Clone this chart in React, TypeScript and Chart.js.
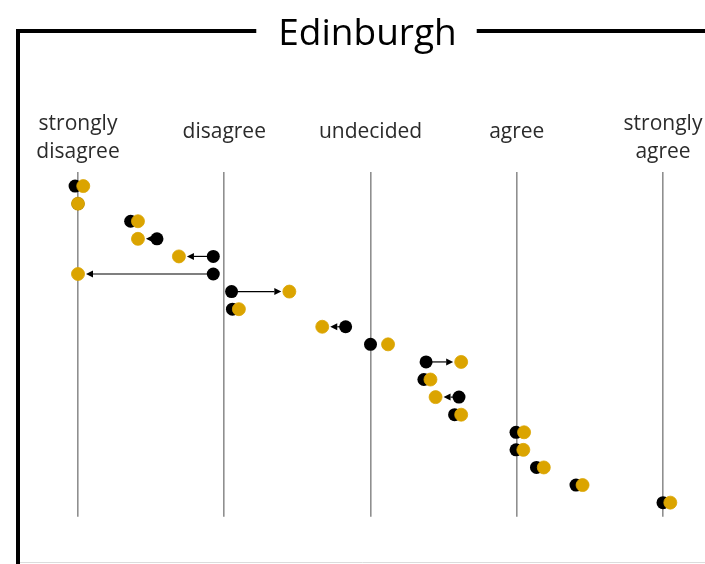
import { useEffect, useRef } from "react";
import { Chart, registerables } from "chart.js";

Chart.register(...registerables);

const TITLE = "Edinburgh";
const categoryLabels: string[][] = [
  ["strongly", "disagree"],
  ["disagree"],
  ["undecided"],
  ["agree"],
  ["strongly", "agree"],
];
const categoryValues = [1, 2, 3, 4, 5];

const respondents = [1, 2, 3, 4, 5, 6, 7, 8, 9, 10, 11, 12, 13, 14, 15, 16, 17, 18, 19];
const beforeScores = [0.98, 1.0, 1.36, 1.54, 1.925, 1.925, 2.05, 2.056, 2.83, 3.0, 3.38, 3.365, 3.605, 3.575, 3.995, 3.995, 4.135, 4.405, 5.0];
const afterScores = [1.036, 1.0, 1.41, 1.41, 1.69, 1.0, 2.445, 2.1, 2.67, 3.12, 3.62, 3.41, 3.445, 3.62, 4.05, 4.045, 4.185, 4.45, 5.05];
const showArrow = [false, false, false, true, true, true, true, false, true, false, true, false, true, false, false, false, false, false, false];

const BLACK = "#000000";
const GOLD = "#DBA400";
const DOT_R = 6.5;

const decorPlugin = {
  id: "decor",
  beforeDraw(chart: any) {
    const ctx = chart.ctx as CanvasRenderingContext2D;
    const W = chart.width;
    const H = chart.height;
    ctx.save();
    ctx.fillStyle = "#ffffff";
    ctx.fillRect(0, 0, W, H);

    // title and frame
    ctx.font = '37px "Open Sans"';
    ctx.fillStyle = "#000";
    ctx.textAlign = "center";
    ctx.textBaseline = "alphabetic";
    const cx = 367.5;
    const tw = ctx.measureText(TITLE).width;
    ctx.fillText(TITLE, cx, 45);

    ctx.strokeStyle = "#000";
    ctx.lineWidth = 4;
    ctx.lineJoin = "miter";
    ctx.beginPath();
    ctx.moveTo(18, H);
    ctx.lineTo(18, 31);
    ctx.lineTo(cx - tw / 2 - 22, 31);
    ctx.stroke();
    ctx.beginPath();
    ctx.moveTo(cx + tw / 2 + 20, 31);
    ctx.lineTo(W, 31);
    ctx.stroke();

    ctx.strokeStyle = "#dcdcdc";
    ctx.lineWidth = 1;
    ctx.beginPath();
    ctx.moveTo(20, H - 1.5);
    ctx.lineTo(W, H - 1.5);
    ctx.stroke();

    // category labels
    const xs = chart.scales.x;
    ctx.font = '21px "Open Sans"';
    ctx.fillStyle = "#2b2b2b";
    categoryLabels.forEach((lines, i) => {
      const x = xs.getPixelForValue(categoryValues[i]);
      if (lines.length === 1) {
        ctx.fillText(lines[0], x, 138);
      } else {
        lines.forEach((l, j) => ctx.fillText(l, x, 130 + j * 27.5));
      }
    });
    ctx.restore();
  },
  beforeDatasetsDraw(chart: any) {
    const ctx = chart.ctx as CanvasRenderingContext2D;
    const xs = chart.scales.x;
    const ys = chart.scales.y;
    ctx.save();
    ctx.strokeStyle = "#000";
    ctx.fillStyle = "#000";
    ctx.lineWidth = 1.2;
    respondents.forEach((r, i) => {
      if (!showArrow[i]) return;
      const xb = xs.getPixelForValue(beforeScores[i]);
      const xg = xs.getPixelForValue(afterScores[i]);
      const y = ys.getPixelForValue(r);
      const dir = Math.sign(xg - xb);
      const tip = xg - dir * (DOT_R + 1.5);
      const base = tip - dir * 7;
      ctx.beginPath();
      ctx.moveTo(xb, y);
      ctx.lineTo(base, y);
      ctx.stroke();
      ctx.beginPath();
      ctx.moveTo(tip, y);
      ctx.lineTo(base, y - 3.5);
      ctx.lineTo(base, y + 3.5);
      ctx.closePath();
      ctx.fill();
    });
    ctx.restore();
  },
};

export default function App() {
  const canvasRef = useRef<HTMLCanvasElement | null>(null);

  useEffect(() => {
    if (!canvasRef.current) return;
    const chart = new Chart(canvasRef.current, {
      type: "scatter",
      data: {
        datasets: [
          {
            label: "after",
            data: respondents.map((r, i) => ({ x: afterScores[i], y: r })),
            backgroundColor: GOLD,
            borderColor: GOLD,
            borderWidth: 0.8,
            pointRadius: DOT_R,
            pointHoverRadius: DOT_R,
            clip: false,
            order: 1,
          },
          {
            label: "before",
            data: respondents.map((r, i) => ({ x: beforeScores[i], y: r })),
            backgroundColor: BLACK,
            borderWidth: 0,
            pointRadius: DOT_R,
            pointHoverRadius: DOT_R,
            clip: false,
            order: 2,
          },
        ],
      },
      options: {
        animation: false,
        responsive: false,
        events: [],
        layout: { padding: { left: 63.375, right: 27.375, top: 172, bottom: 47.3 } },
        plugins: {
          legend: { display: false },
          tooltip: { enabled: false },
          title: { display: false },
        },
        scales: {
          x: {
            type: "linear",
            position: "top",
            min: 0.9,
            max: 5.1,
            afterBuildTicks: (scale: any) => {
              scale.ticks = categoryValues.map((v) => ({ value: v }));
            },
            ticks: { display: false },
            grid: { color: "#8f8f8f", lineWidth: 1.6, drawTicks: false },
            border: { display: false },
          },
          y: {
            type: "linear",
            min: 0.2,
            max: 19.8,
            reverse: true,
            display: false,
          },
        },
      },
      plugins: [decorPlugin],
    });
    return () => chart.destroy();
  }, []);

  return (
    <div style={{ position: "absolute", left: 0, top: 0, width: 705, height: 564 }}>
      <canvas ref={canvasRef} width={705} height={564} style={{ display: "block" }} />
    </div>
  );
}
